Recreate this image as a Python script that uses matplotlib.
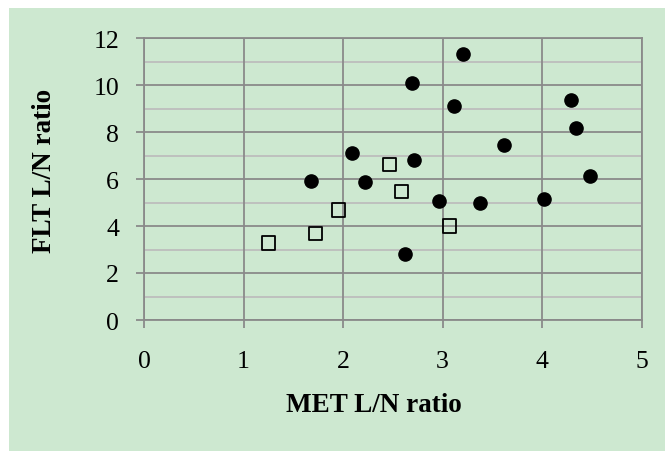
import matplotlib
matplotlib.use("Agg")
import matplotlib.pyplot as plt
from matplotlib.patches import Rectangle

# Data
circle_x = [3.20, 2.69, 3.11, 4.29, 4.34, 3.62, 2.09, 2.71, 1.68, 2.22, 4.48, 2.96, 3.38, 4.02, 2.62]
circle_y = [11.32, 10.09, 9.09, 9.37, 8.16, 7.46, 7.11, 6.81, 5.90, 5.86, 6.14, 5.08, 4.96, 5.13, 2.81]
square_x = [2.47, 2.59, 1.25, 1.72, 1.95, 3.07]
square_y = [6.60, 5.46, 3.28, 3.69, 4.68, 4.00]

x_ticks = [0, 1, 2, 3, 4, 5]
y_major = [0, 2, 4, 6, 8, 10, 12]
y_minor = [1, 3, 5, 7, 9, 11]
x_label = "MET L/N ratio"
y_label = "FLT L/N ratio"

BG = "#cde8d0"
MAJ = "#8a8a8a"
MIN = "#bdbdbd"

plt.rcParams['font.family'] = ['Liberation Serif', 'DejaVu Serif']

W, H = 665, 452
fig = plt.figure(figsize=(W / 100, H / 100), dpi=100)
fig.patch.set_facecolor("white")
bg = Rectangle((9 / W, 0), 1 - 9 / W, 1 - 9 / H, transform=fig.transFigure,
               facecolor=BG, edgecolor="none", zorder=-10)
fig.add_artist(bg)

ax = fig.add_axes([144 / W, 1 - 321 / H, (641.7 - 144) / W, (321 - 39) / H])
ax.set_zorder(5)
ax.set_facecolor(BG)
ax.set_xlim(0, 5)
ax.set_ylim(0, 12)

ax.set_xticks(x_ticks)
ax.set_yticks(y_major)
ax.set_yticks(y_minor, minor=True)

for v in y_minor:
    ax.axhline(v, color=MIN, lw=1.3, zorder=1)
for v in y_major:
    ax.axhline(v, color=MAJ, lw=1.3, zorder=1.5)
for v in x_ticks:
    ax.axvline(v, color=MAJ, lw=1.3, zorder=1.5)

for s in ax.spines.values():
    s.set_color(MAJ)
    s.set_linewidth(1.3)

ax.tick_params(axis='x', direction='out', length=5.5, width=1.3, color=MAJ,
               labelsize=18.5, pad=16)
ax.tick_params(axis='y', which='major', direction='out', length=6, width=1.3, color=MAJ,
               labelsize=18.5, pad=12)
ax.tick_params(axis='y', which='minor', length=0)

ax.scatter(circle_x, circle_y, s=9.5 ** 2, marker='o', color='black', zorder=3, clip_on=False)
ax.scatter(square_x, square_y, s=9.5 ** 2, marker='s', facecolors='none', edgecolors='black',
           linewidths=1.3, zorder=3, clip_on=False)

ax.set_xlabel(x_label, fontsize=19.5, fontweight='bold')
ax.set_ylabel(y_label, fontsize=19.5, fontweight='bold')
ax.xaxis.label.set_va('center')
ax.xaxis.set_label_coords((373.5 - 144) / 497.7, -(406 - 321) / 282)
ax.yaxis.label.set_va('center')
ax.yaxis.label.set_ha('center')
ax.yaxis.set_label_coords((45 - 144) / 497.7, (321 - 170.5) / 282)

fig.savefig("out.png", dpi=100, facecolor=fig.get_facecolor())
